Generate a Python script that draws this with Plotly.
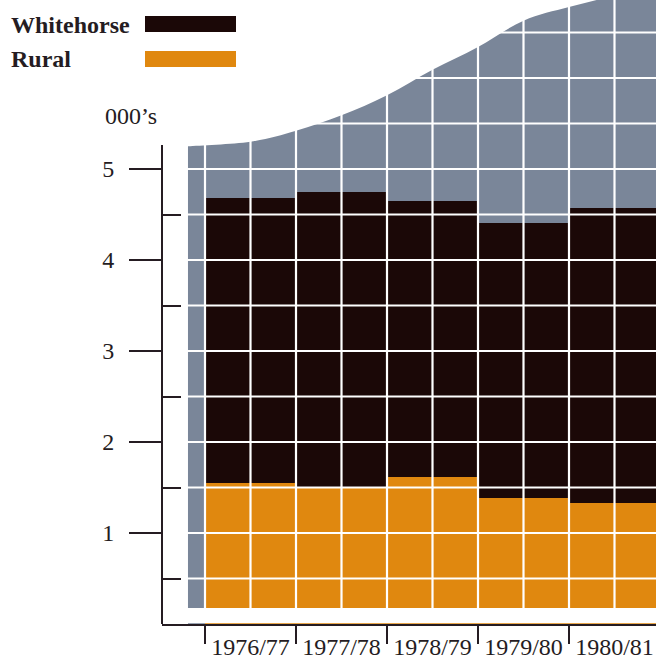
import numpy as np
import plotly.graph_objects as go

# ---- data ----
years = ["1976/77", "1977/78", "1978/79", "1979/80", "1980/81"]
rural = [1.55, 1.49, 1.61, 1.39, 1.33]
whitehorse = [3.13, 3.26, 3.04, 3.02, 3.24]
y_ticks = [1, 2, 3, 4, 5]
y_minor = [0.5, 1.5, 2.5, 3.5, 4.5]

# decorative background silhouette (x in bar units, y in thousands)
curve_x = [-0.687, 0.0, 0.5, 1.0, 1.5, 2.0, 2.5, 3.0, 3.5, 4.0, 4.5]
curve_y = [5.25, 5.30, 5.42, 5.59, 5.81, 6.09, 6.34, 6.63, 6.78, 6.90, 6.98]

W, H = 656, 659
PX_L, PX_R, PX_T, PX_B = 162, 656, 0, 624
UNIT = 91.0
CENTER0 = 250.5

GREY = "#7a8699"
DARK = "#1b0807"
ORANGE = "#e0880f"
GRID = "#ffffff"
INK = "#251c22"
FONT = "Liberation Serif"

x_range = [(PX_L - CENTER0) / UNIT, (PX_R - CENTER0) / UNIT]
y_range = [0, PX_B / UNIT]

xpos = list(range(len(years)))


def smooth_path(xs, ys):
    pts = list(zip(xs, ys))
    n = len(pts)
    d = f"M {xs[0]},0 L {xs[0]},{ys[0]}"
    for i in range(n - 1):
        p0 = pts[i - 1] if i > 0 else pts[i]
        p1 = pts[i]
        p2 = pts[i + 1]
        p3 = pts[i + 2] if i + 2 < n else pts[i + 1]
        c1 = (p1[0] + (p2[0] - p0[0]) / 6, p1[1] + (p2[1] - p0[1]) / 6)
        c2 = (p2[0] - (p3[0] - p1[0]) / 6, p2[1] - (p3[1] - p1[1]) / 6)
        d += f" C {c1[0]},{c1[1]} {c2[0]},{c2[1]} {p2[0]},{p2[1]}"
    d += f" L {xs[-1]},0 Z"
    return d


fig = go.Figure()

fig.add_trace(go.Bar(x=xpos, y=rural, name="Rural", width=1,
                     marker=dict(color=ORANGE, line=dict(width=0)), showlegend=False))
fig.add_trace(go.Bar(x=xpos, y=whitehorse, name="Whitehorse", width=1,
                     marker=dict(color=DARK, line=dict(width=0)), showlegend=False))

shapes = []
# grey silhouette behind the bars
shapes.append(dict(type="path", xref="x", yref="y", path=smooth_path(curve_x, curve_y),
                   fillcolor=GREY, line=dict(width=0), layer="below"))
# white grid lines drawn above the bars
for gx in np.arange(-0.5, 4.51, 0.5):
    shapes.append(dict(type="line", xref="x", yref="y", x0=gx, x1=gx, y0=0.1, y1=7.0,
                       line=dict(color=GRID, width=2.2), layer="above"))
for gy in np.arange(0.5, 6.6, 0.5):
    shapes.append(dict(type="line", xref="x", yref="y", x0=-0.72, x1=4.6, y0=gy, y1=gy,
                       line=dict(color=GRID, width=2.2), layer="above"))
# white gap between bars and the baseline
shapes.append(dict(type="rect", xref="x", yref="y", x0=-0.75, x1=4.6, y0=0.008,
                   y1=(PX_B - 608) / UNIT, fillcolor="white", line=dict(width=0), layer="above"))
# y-axis spine
shapes.append(dict(type="line", xref="paper", yref="paper",
                   x0=PX_L / W, x1=PX_L / W, y0=1 - PX_B / H, y1=1 - 145 / H,
                   line=dict(color=INK, width=2), layer="above"))

# legend swatches
shapes.append(dict(type="rect", xref="paper", yref="paper",
                   x0=145 / W, x1=236 / W, y0=1 - 32 / H, y1=1 - 16 / H,
                   fillcolor=DARK, line=dict(width=0)))
shapes.append(dict(type="rect", xref="paper", yref="paper",
                   x0=145 / W, x1=236 / W, y0=1 - 67 / H, y1=1 - 51 / H,
                   fillcolor=ORANGE, line=dict(width=0)))

annotations = [
    dict(text="<b>Whitehorse</b>", xref="paper", yref="paper", x=9 / W, y=1 - 25 / H,
         xanchor="left", yanchor="middle", showarrow=False,
         font=dict(family=FONT, size=24, color=INK)),
    dict(text="<b>Rural</b>", xref="paper", yref="paper", x=9 / W, y=1 - 59 / H,
         xanchor="left", yanchor="middle", showarrow=False,
         font=dict(family=FONT, size=24, color=INK)),
    dict(text="000’s", xref="paper", yref="paper", x=103 / W, y=1 - 116 / H,
         xanchor="left", yanchor="middle", showarrow=False,
         font=dict(family=FONT, size=24, color=INK)),
]

fig.update_layout(
    width=W, height=H,
    margin=dict(l=0, r=0, t=0, b=0),
    paper_bgcolor="white", plot_bgcolor="white",
    barmode="stack", bargap=0,
    shapes=shapes, annotations=annotations,
    showlegend=False,
    xaxis=dict(
        domain=[PX_L / W, PX_R / W], range=x_range, automargin=False,
        tickmode="array", tickvals=xpos, ticktext=years, ticks="",
        ticklabelstandoff=0,
        tickfont=dict(family=FONT, size=24, color=INK),
        showgrid=False, zeroline=False,
        showline=True, linecolor=INK, linewidth=2,
        minor=dict(tickmode="array", tickvals=[-0.5, 0.5, 1.5, 2.5, 3.5, 4.5],
                   ticks="outside", ticklen=18, tickwidth=2, tickcolor=INK, showgrid=False),
    ),
    yaxis=dict(
        domain=[1 - PX_B / H, 1 - PX_T / H], range=y_range, automargin=False,
        tickmode="array", tickvals=y_ticks, ticks="outside", ticklen=32,
        tickwidth=2, tickcolor=INK,
        ticklabelstandoff=10,
        tickfont=dict(family=FONT, size=24, color=INK),
        showgrid=False, zeroline=False, showline=False,
        minor=dict(tickmode="array", tickvals=y_minor, ticks="inside", ticklen=19,
                   tickwidth=2, tickcolor=INK, showgrid=False),
    ),
)

fig.write_html("out.html", config={"displayModeBar": False},
               post_script="document.body.style.margin='0px';document.body.style.overflow='hidden';")
